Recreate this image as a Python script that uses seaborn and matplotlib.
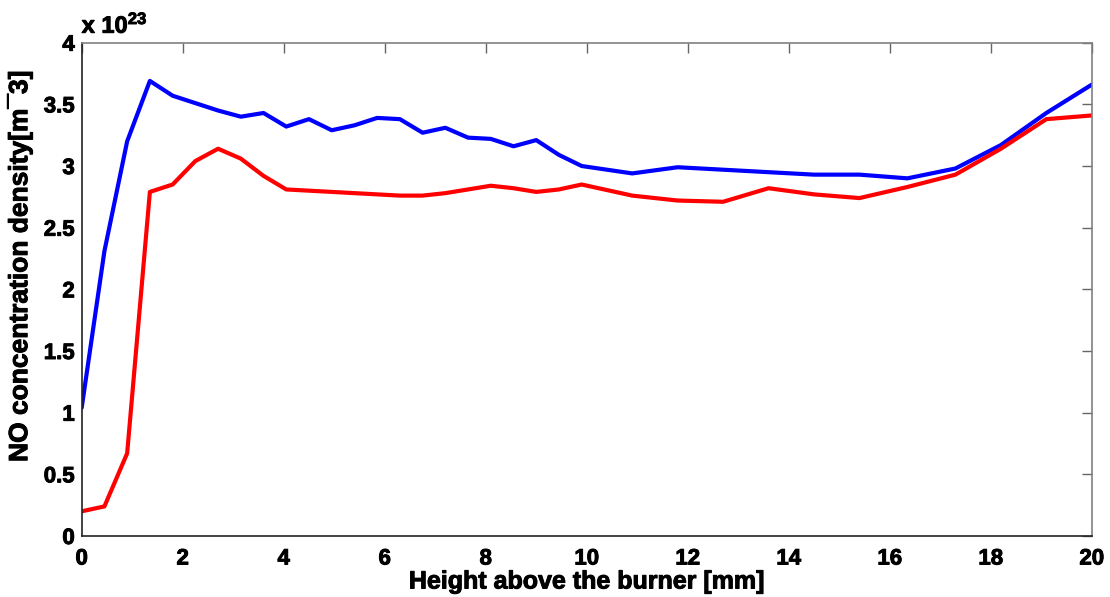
import numpy as np
import pandas as pd
import seaborn as sns
import matplotlib.pyplot as plt
import matplotlib.patheffects as pe

# height above burner [mm]
height = [0, 0.45, 0.9, 1.35, 1.8, 2.25, 2.7, 3.15, 3.6, 4.05, 4.5, 4.95, 5.4, 5.85,
          6.3, 6.75, 7.2, 7.65, 8.1, 8.55, 9.0, 9.45, 9.9, 10.9, 11.8, 12.7, 13.6,
          14.5, 15.4, 16.35, 17.3, 18.2, 19.1, 20.0]

# NO density, units of 1e23 m^-3
blue_vals = [1.04, 2.31, 3.20, 3.69, 3.57, 3.51, 3.45, 3.40, 3.43, 3.32, 3.38, 3.29,
             3.33, 3.39, 3.38, 3.27, 3.31, 3.23, 3.22, 3.16, 3.21, 3.09, 3.00, 2.94,
             2.99, 2.97, 2.95, 2.93, 2.93, 2.90, 2.98, 3.17, 3.43, 3.66]
red_vals = [0.20, 0.24, 0.67, 2.79, 2.85, 3.04, 3.14, 3.06, 2.92, 2.81, 2.80, 2.79,
            2.78, 2.77, 2.76, 2.76, 2.78, 2.81, 2.84, 2.82, 2.79, 2.81, 2.85, 2.76,
            2.72, 2.71, 2.82, 2.77, 2.74, 2.83, 2.93, 3.14, 3.38, 3.41]

df = pd.concat([
    pd.DataFrame({'h': height, 'no': blue_vals, 'run': 'a'}),
    pd.DataFrame({'h': height, 'no': red_vals, 'run': 'b'}),
])

sns.set_style('white')
plt.rcParams['font.family'] = ['Liberation Sans', 'DejaVu Sans']
plt.rcParams['font.weight'] = 'bold'
plt.rcParams['text.color'] = 'black'
plt.rcParams['axes.labelcolor'] = 'black'
plt.rcParams['mathtext.fontset'] = 'custom'
plt.rcParams['mathtext.rm'] = 'Liberation Sans:bold'
plt.rcParams['mathtext.it'] = 'Liberation Sans:bold'
plt.rcParams['mathtext.bf'] = 'Liberation Sans:bold'

# a thin stroke to mimic the heavy matlab text
heavy = [pe.withStroke(linewidth=0.7, foreground='black')]

fig = plt.figure(figsize=(11.1, 5.97), dpi=100)
ax = fig.add_axes([0.0736, 0.1022, 0.91, 0.8263])

sns.lineplot(data=df, x='h', y='no', hue='run', palette={'a': '#0000ff', 'b': '#ff0000'},
             linewidth=3.0, legend=False, ax=ax, estimator=None, sort=False)

ax.set_xlim(0, 20)
ax.set_ylim(0, 4)
ax.set_xticks(np.arange(0, 21, 2))
ax.set_yticks(np.arange(0, 4.01, 0.5))
ax.set_yticklabels(['0', '0.5', '1', '1.5', '2', '2.5', '3', '3.5', '4'])

ax.tick_params(direction='in', length=7.5, width=1, colors='#666666', labelcolor='black',
               labelsize=16, top=True, right=True)
ax.tick_params(axis='x', pad=9)
ax.tick_params(axis='y', pad=5)
for lab in ax.get_xticklabels() + ax.get_yticklabels():
    lab.set_fontweight('bold')
    lab.set_path_effects(heavy)

for s in ['left', 'bottom']:
    ax.spines[s].set_color('#222222')
for s in ['top', 'right']:
    ax.spines[s].set_color('#808080')
for s in ax.spines.values():
    s.set_linewidth(1.2)

ax.set_xlabel('Height above the burner [mm]', fontsize=18, fontweight='bold', labelpad=0,
              path_effects=heavy)
ax.set_ylabel('NO concentration density[m\u00af3]', fontsize=19, fontweight='bold',
              path_effects=heavy)
ax.yaxis.set_label_coords(-0.049, 0.547)

ax.text(0.0, 1.01, r'x 10$^{23}$', transform=ax.transAxes, fontsize=17,
        fontweight='bold', ha='left', va='bottom', path_effects=heavy)

fig.savefig('out.png', dpi=100)
